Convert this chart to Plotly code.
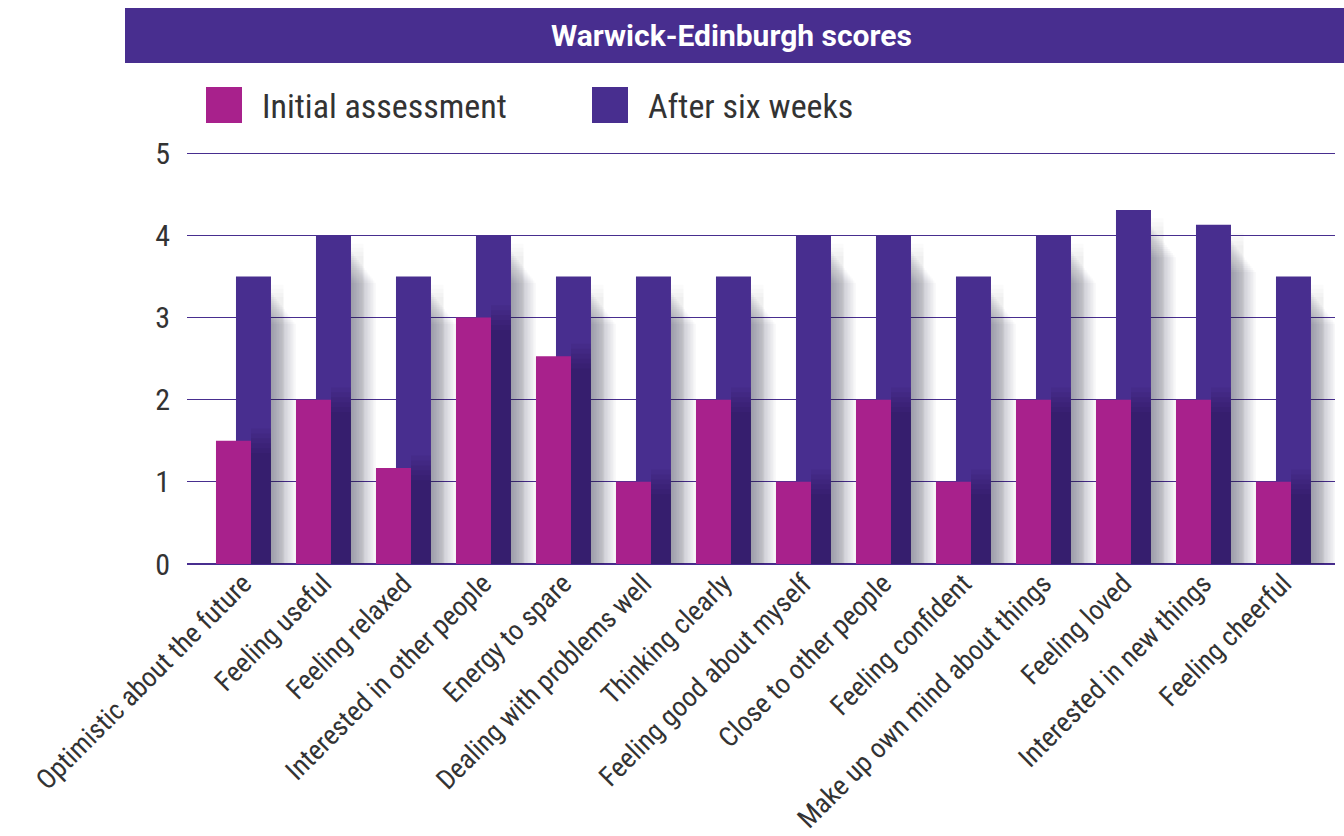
import plotly.graph_objects as go

categories = [
    "Optimistic about the future", "Feeling useful", "Feeling relaxed",
    "Interested in other people", "Energy to spare", "Dealing with problems well",
    "Thinking clearly", "Feeling good about myself", "Close to other people",
    "Feeling confident", "Make up own mind about things", "Feeling loved",
    "Interested in new things", "Feeling cheerful",
]
initial_assessment = [1.5, 2, 1.17, 3, 2.53, 1, 2, 1, 2, 1, 2, 2, 2, 1]
after_six_weeks = [3.5, 4, 3.5, 4, 3.5, 3.5, 3.5, 4, 4, 3.5, 4, 4.31, 4.13, 3.5]
series_names = ["Initial assessment", "After six weeks"]
title_text = "Warwick-Edinburgh scores"
y_ticks = [0, 1, 2, 3, 4, 5]

MAGENTA = "#A8218C"
PURPLE = "#482E8F"
FONT = "Roboto Condensed, Roboto, Liberation Sans, sans-serif"
TITLE_FONT = "Roboto, Liberation Sans, sans-serif"

W, H = 1344, 836
ML, MR, MT, MB = 187, 9, 150, 272
PW, PH = W - ML - MR, H - MT - MB

def px(x):
    return (x - ML) / PW

def py(y):
    return (H - MB - y) / PH

BW = 0.4375
MAG_OFF = -0.125 - BW / 2
PUR_OFF = 0.125 - BW / 2
PUR_RIGHT = PUR_OFF + BW
MAG_RIGHT = MAG_OFF + BW
GAP = 1 + MAG_OFF - PUR_RIGHT

fig = go.Figure()

# soft shadows to the right of the purple bars
n_layers = 16
for i in range(n_layers):
    w = GAP * (i + 1) / n_layers
    fig.add_trace(go.Bar(
        x=categories,
        y=[max(v - 0.2 - 0.025 * i, 0) for v in after_six_weeks],
        offset=PUR_RIGHT, width=w,
        marker=dict(color="rgba(50,50,65,0.026)", line=dict(width=0)),
        showlegend=False, hoverinfo="skip",
    ))
# softer top edge of the shadow
for i in range(4):
    fig.add_trace(go.Bar(
        x=categories,
        y=[max(v - 0.1 - 0.05 * i, 0) for v in after_six_weeks],
        offset=PUR_RIGHT, width=GAP * 0.5,
        marker=dict(color="rgba(50,50,65,0.02)", line=dict(width=0)),
        showlegend=False, hoverinfo="skip",
    ))

fig.add_trace(go.Bar(
    x=categories, y=after_six_weeks, name=series_names[1],
    offset=PUR_OFF, width=BW,
    marker=dict(color=PURPLE, line=dict(width=0)),
    showlegend=False,
))

# shadow of the magenta bars cast on the purple bars
for i in range(6):
    fig.add_trace(go.Bar(
        x=categories,
        y=[v + 0.15 - 0.06 * i for v in initial_assessment],
        offset=MAG_RIGHT, width=PUR_RIGHT - MAG_RIGHT,
        marker=dict(color="rgba(15,5,40,0.055)", line=dict(width=0)),
        showlegend=False, hoverinfo="skip",
    ))

fig.add_trace(go.Bar(
    x=categories, y=initial_assessment, name=series_names[0],
    offset=MAG_OFF, width=BW,
    marker=dict(color=MAGENTA, line=dict(width=0)),
    showlegend=False,
))

# title band
fig.add_shape(type="rect", xref="paper", yref="paper",
              x0=px(125), x1=px(1344), y0=py(63), y1=py(8),
              fillcolor=PURPLE, line=dict(width=0), layer="above")
fig.add_annotation(xref="paper", yref="paper", x=px(731), y=py(35.5),
                   text="<b>" + title_text + "</b>", showarrow=False,
                   font=dict(family=TITLE_FONT, size=30, color="white"),
                   xanchor="center", yanchor="middle")

# custom legend with large square swatches
legend_items = [(series_names[0], MAGENTA, 206, 260), (series_names[1], PURPLE, 592, 646)]
for name, col, sx, tx in legend_items:
    fig.add_shape(type="rect", xref="paper", yref="paper",
                  x0=px(sx), x1=px(sx + 36), y0=py(123), y1=py(87),
                  fillcolor=col, line=dict(width=0))
    fig.add_annotation(xref="paper", yref="paper", x=px(tx), y=py(106),
                       text=name, showarrow=False,
                       font=dict(family=FONT, size=34, color="#333333"),
                       xanchor="left", yanchor="middle")

fig.update_layout(
    width=W, height=H,
    margin=dict(l=ML, r=MR, t=MT, b=MB, pad=0),
    barmode="overlay",
    plot_bgcolor="white", paper_bgcolor="white",
    showlegend=False,
    font=dict(family=FONT, color="#333333"),
    xaxis=dict(
        type="category", range=[-0.706, 13.644], automargin=False,
        tickangle=-45, tickfont=dict(family=FONT, size=27.5, color="#333333"),
        showgrid=False, showline=False, ticks="", zeroline=False,
        ticklabelstandoff=-3,
    ),
    yaxis=dict(
        range=[0, 5.04], tickvals=y_ticks, automargin=False,
        tickfont=dict(family=FONT, size=30, color="#333333"),
        showgrid=True, gridcolor=PURPLE, gridwidth=1,
        zeroline=True, zerolinecolor=PURPLE, zerolinewidth=2,
        showline=False, ticks="", ticklabelstandoff=16,
    ),
)

fig.write_html(
    "out.html",
    config={"displayModeBar": False},
    post_script="document.body.style.margin='0';document.body.style.overflow='hidden';",
)
